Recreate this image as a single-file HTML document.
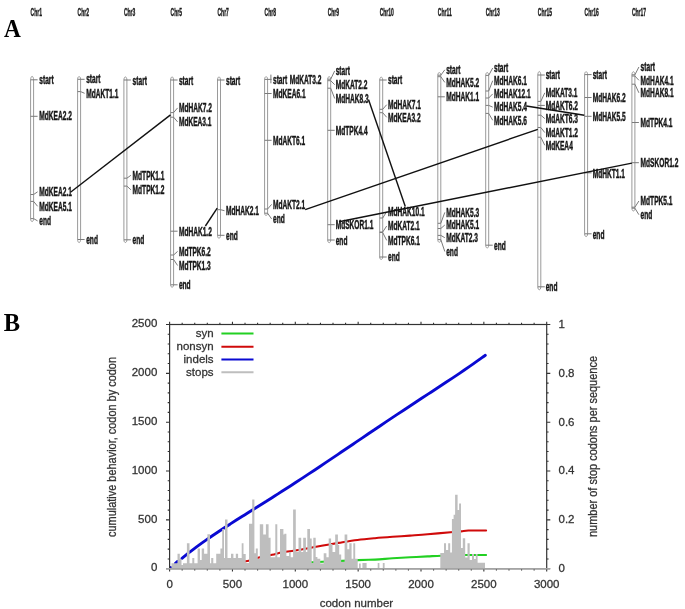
<!DOCTYPE html>
<html><head><meta charset="utf-8"><style>
html,body{margin:0;padding:0;background:#fff;}
svg{display:block;will-change:transform;}
.hd{font:bold 10px "Liberation Sans",sans-serif;fill:#1a1a1a;stroke:#1a1a1a;stroke-width:0.4;}
.lb{font:bold 12px "Liberation Sans",sans-serif;fill:#151515;stroke:#151515;stroke-width:0.45;}
.ch{fill:#fff;stroke:#9a9a9a;stroke-width:1;}
.tk{fill:none;stroke:#7a7a7a;stroke-width:1;}
.lk{stroke:#111;stroke-width:1.4;}
.tl{font:11.5px "Liberation Sans",sans-serif;fill:#333;stroke:#333;stroke-width:0.28;}
.tr{font-size:12px;}
.ax{fill:none;stroke:#333;stroke-width:1.1;}
.axl{fill:none;stroke:#333;stroke-width:1.2;}
.dl{fill:none;stroke-linejoin:round;stroke-linecap:round;}
.big{font:bold 24px "Liberation Serif",serif;fill:#000;}
</style></head><body>
<svg width="685" height="609" viewBox="0 0 685 609">
<defs><clipPath id="pc"><rect x="169.6" y="324.5" width="377.1" height="243.6"/></clipPath></defs>
<rect width="685" height="609" fill="#fff"/>
<text class="big" transform="translate(4,36.9) scale(0.97,1.06)">A</text>
<text class="big" transform="translate(3.8,331.2) scale(1.02,1.06)">B</text>
<text class="hd" transform="translate(30.6,16) scale(0.5,1)">Chr1</text>
<text class="hd" transform="translate(77.6,16) scale(0.5,1)">Chr2</text>
<text class="hd" transform="translate(123.9,16) scale(0.5,1)">Chr3</text>
<text class="hd" transform="translate(170.6,16) scale(0.5,1)">Chr5</text>
<text class="hd" transform="translate(217.5,16) scale(0.5,1)">Chr7</text>
<text class="hd" transform="translate(264.6,16) scale(0.5,1)">Chr8</text>
<text class="hd" transform="translate(327.7,16) scale(0.5,1)">Chr9</text>
<text class="hd" transform="translate(379.7,16) scale(0.5,1)">Chr10</text>
<text class="hd" transform="translate(437.8,16) scale(0.5,1)">Chr11</text>
<text class="hd" transform="translate(485.7,16) scale(0.5,1)">Chr13</text>
<text class="hd" transform="translate(537.8,16) scale(0.5,1)">Chr15</text>
<text class="hd" transform="translate(584.6,16) scale(0.5,1)">Chr16</text>
<text class="hd" transform="translate(631.9,16) scale(0.5,1)">Chr17</text>
<path class="ch" d="M30.6,79.8 L30.6,218.6 C30.6,220.4 31.4,221.6 32.1,221.6 C32.8,221.6 33.6,220.4 33.6,218.6 L33.6,79.8 C33.6,78 32.8,76.3 32.1,76.3 C31.4,76.3 30.6,78 30.6,79.8 Z"/>
<path class="tk" d="M30.6,79.8 H37.6"/>
<text class="lb" transform="translate(39.3,84.1) scale(0.55,1)">start</text>
<path class="tk" d="M30.6,116.3 H37.6"/>
<text class="lb" transform="translate(39.3,120.3) scale(0.55,1)">MdKEA2.2</text>
<path class="tk" d="M30.6,194.5 H33.6 L37.6,191.8"/>
<text class="lb" transform="translate(39.3,196.1) scale(0.55,1)">MdKEA2.1</text>
<path class="tk" d="M30.6,201.4 H33.6 L37.6,206.3"/>
<text class="lb" transform="translate(39.3,210.6) scale(0.55,1)">MdKEA5.1</text>
<path class="tk" d="M30.6,218.6 H33.6 L37.6,220.9"/>
<text class="lb" transform="translate(39.3,225.2) scale(0.55,1)">end</text>
<path class="ch" d="M77.6,79.3 L77.6,239.5 C77.6,241.3 78.4,242.6 79.1,242.6 C79.8,242.6 80.6,241.3 80.6,239.5 L80.6,79.3 C80.6,77.5 79.8,76.6 79.1,76.6 C78.4,76.6 77.6,77.5 77.6,79.3 Z"/>
<path class="tk" d="M77.6,79.3 H84.6"/>
<text class="lb" transform="translate(86.2,83.1) scale(0.55,1)">start</text>
<path class="tk" d="M77.6,91.6 H80.6 L84.6,93.3"/>
<text class="lb" transform="translate(86.2,97.6) scale(0.55,1)">MdAKT1.1</text>
<path class="tk" d="M77.6,239.5 H84.6"/>
<text class="lb" transform="translate(86.2,243.9) scale(0.55,1)">end</text>
<path class="ch" d="M123.9,80 L123.9,239.8 C123.9,241.6 124.7,242.5 125.4,242.5 C126.1,242.5 126.9,241.6 126.9,239.8 L126.9,80 C126.9,78.2 126.1,76.9 125.4,76.9 C124.7,76.9 123.9,78.2 123.9,80 Z"/>
<path class="tk" d="M123.9,80 H130.9"/>
<text class="lb" transform="translate(132.6,84.7) scale(0.55,1)">start</text>
<path class="tk" d="M123.9,178.2 H126.9 L130.9,175.3"/>
<text class="lb" transform="translate(132.6,179.6) scale(0.55,1)">MdTPK1.1</text>
<path class="tk" d="M123.9,186.1 H126.9 L130.9,189.8"/>
<text class="lb" transform="translate(132.6,194.1) scale(0.55,1)">MdTPK1.2</text>
<path class="tk" d="M123.9,239.8 H130.9"/>
<text class="lb" transform="translate(132.6,244.3) scale(0.55,1)">end</text>
<path class="ch" d="M170.6,80 L170.6,284.8 C170.6,286.6 171.4,287.1 172.1,287.1 C172.8,287.1 173.6,286.6 173.6,284.8 L173.6,80 C173.6,78.2 172.8,76.9 172.1,76.9 C171.4,76.9 170.6,78.2 170.6,80 Z"/>
<path class="tk" d="M170.6,80 H177.6"/>
<text class="lb" transform="translate(178.9,84.6) scale(0.55,1)">start</text>
<path class="tk" d="M170.6,112.6 H173.6 L177.6,107.9"/>
<text class="lb" transform="translate(178.9,112.2) scale(0.55,1)">MdHAK7.2</text>
<path class="tk" d="M170.6,117.2 H173.6 L177.6,121.9"/>
<text class="lb" transform="translate(178.9,126.2) scale(0.55,1)">MdKEA3.1</text>
<path class="tk" d="M170.6,231.2 H177.6"/>
<text class="lb" transform="translate(178.9,236.2) scale(0.55,1)">MdHAK1.2</text>
<path class="tk" d="M170.6,255 H173.6 L177.6,251.4"/>
<text class="lb" transform="translate(178.9,255.7) scale(0.55,1)">MdTPK6.2</text>
<path class="tk" d="M170.6,259.5 H173.6 L177.6,265.5"/>
<text class="lb" transform="translate(178.9,269.8) scale(0.55,1)">MdTPK1.3</text>
<path class="tk" d="M170.6,284.8 H177.6"/>
<text class="lb" transform="translate(178.9,289.1) scale(0.55,1)">end</text>
<path class="ch" d="M217.5,80 L217.5,235.3 C217.5,237.1 218.3,238.3 219,238.3 C219.7,238.3 220.5,237.1 220.5,235.3 L220.5,80 C220.5,78.2 219.7,76.9 219,76.9 C218.3,76.9 217.5,78.2 217.5,80 Z"/>
<path class="tk" d="M217.5,80 H224.5"/>
<text class="lb" transform="translate(226,84.6) scale(0.55,1)">start</text>
<path class="tk" d="M217.5,209.7 H220.5 L224.5,210.7"/>
<text class="lb" transform="translate(226,215) scale(0.55,1)">MdHAK2.1</text>
<path class="tk" d="M217.5,235.3 H224.5"/>
<text class="lb" transform="translate(226,239.9) scale(0.55,1)">end</text>
<path class="ch" d="M264.6,79.4 L264.6,213.2 C264.6,215 265.4,215.3 266.1,215.3 C266.8,215.3 267.6,215 267.6,213.2 L267.6,79.4 C267.6,77.6 266.8,76.7 266.1,76.7 C265.4,76.7 264.6,77.6 264.6,79.4 Z"/>
<path class="tk" d="M264.6,79.4 H271.6"/>
<text class="lb" transform="translate(273,84.1) scale(0.55,1)">start</text>
<path class="tk" d="M264.6,93.5 H271.6"/>
<text class="lb" transform="translate(273,97.8) scale(0.55,1)">MdKEA6.1</text>
<path class="tk" d="M264.6,140.3 H271.6"/>
<text class="lb" transform="translate(273,144.6) scale(0.55,1)">MdAKT6.1</text>
<path class="tk" d="M264.6,209 H267.6 L271.6,204.4"/>
<text class="lb" transform="translate(273,208.7) scale(0.55,1)">MdAKT2.1</text>
<path class="tk" d="M264.6,213.2 H267.6 L271.6,218.9"/>
<text class="lb" transform="translate(273,223.2) scale(0.55,1)">end</text>
<path class="tk" d="M270.9,74.6 V83.3"/>
<text class="lb" transform="translate(289.7,84.1) scale(0.55,1)">MdKAT3.2</text>
<path class="ch" d="M327.7,79.2 L327.7,240 C327.7,241.8 328.5,242.7 329.2,242.7 C329.9,242.7 330.7,241.8 330.7,240 L330.7,79.2 C330.7,77.4 329.9,76.7 329.2,76.7 C328.5,76.7 327.7,77.4 327.7,79.2 Z"/>
<path class="tk" d="M327.7,79.2 H330.7 L334.7,70.9"/>
<text class="lb" transform="translate(335.7,75.2) scale(0.55,1)">start</text>
<path class="tk" d="M327.7,80.7 H330.7 L334.7,84.7"/>
<text class="lb" transform="translate(335.7,89) scale(0.55,1)">MdKAT2.2</text>
<path class="tk" d="M327.7,88.2 H330.7 L334.7,98.5"/>
<text class="lb" transform="translate(335.7,102.8) scale(0.55,1)">MdHAK8.3</text>
<path class="tk" d="M327.7,130.3 H334.7"/>
<text class="lb" transform="translate(335.7,134.6) scale(0.55,1)">MdTPK4.4</text>
<path class="tk" d="M327.7,224.7 H334.7"/>
<text class="lb" transform="translate(335.7,228.8) scale(0.55,1)">MdSKOR1.1</text>
<path class="tk" d="M327.7,240 H334.7"/>
<text class="lb" transform="translate(335.7,244.8) scale(0.55,1)">end</text>
<path class="ch" d="M379.7,80 L379.7,257 C379.7,258.8 380.5,259.4 381.2,259.4 C381.9,259.4 382.7,258.8 382.7,257 L382.7,80 C382.7,78.2 381.9,77.1 381.2,77.1 C380.5,77.1 379.7,78.2 379.7,80 Z"/>
<path class="tk" d="M379.7,80 H386.7"/>
<text class="lb" transform="translate(388,84.3) scale(0.55,1)">start</text>
<path class="tk" d="M379.7,109.3 H382.7 L386.7,104.7"/>
<text class="lb" transform="translate(388,109) scale(0.55,1)">MdHAK7.1</text>
<path class="tk" d="M379.7,112.7 H382.7 L386.7,117.3"/>
<text class="lb" transform="translate(388,121.6) scale(0.55,1)">MdKEA3.2</text>
<path class="tk" d="M379.7,218 H382.7 L386.7,211.7"/>
<text class="lb" transform="translate(388,216) scale(0.55,1)">MdHAK10.1</text>
<path class="tk" d="M379.7,232 H382.7 L386.7,226"/>
<text class="lb" transform="translate(388,230.3) scale(0.55,1)">MdKAT2.1</text>
<path class="tk" d="M379.7,232.5 H382.7 L386.7,240.4"/>
<text class="lb" transform="translate(388,244.7) scale(0.55,1)">MdTPK6.1</text>
<path class="tk" d="M379.7,257 H386.7"/>
<text class="lb" transform="translate(388,261.3) scale(0.55,1)">end</text>
<path class="ch" d="M437.8,75.2 L437.8,239.6 C437.8,241.4 438.6,242.3 439.3,242.3 C440,242.3 440.8,241.4 440.8,239.6 L440.8,75.2 C440.8,73.4 440,72.6 439.3,72.6 C438.6,72.6 437.8,73.4 437.8,75.2 Z"/>
<path class="tk" d="M437.8,75.2 H440.8 L444.8,69.8"/>
<text class="lb" transform="translate(446.2,74.1) scale(0.55,1)">start</text>
<path class="tk" d="M437.8,76.7 H440.8 L444.8,82.4"/>
<text class="lb" transform="translate(446.2,86.7) scale(0.55,1)">MdHAK5.2</text>
<path class="tk" d="M437.8,96.8 H444.8"/>
<text class="lb" transform="translate(446.2,101.1) scale(0.55,1)">MdHAK1.1</text>
<path class="tk" d="M437.8,223.3 H440.8 L444.8,212.4"/>
<text class="lb" transform="translate(446.2,216.7) scale(0.55,1)">MdHAK5.3</text>
<path class="tk" d="M437.8,228.5 H440.8 L444.8,225"/>
<text class="lb" transform="translate(446.2,229.3) scale(0.55,1)">MdHAK5.1</text>
<path class="tk" d="M437.8,235.4 H440.8 L444.8,237.7"/>
<text class="lb" transform="translate(446.2,242) scale(0.55,1)">MdKAT2.3</text>
<path class="tk" d="M437.8,239.6 H440.8 L444.8,251.5"/>
<text class="lb" transform="translate(446.2,255.8) scale(0.55,1)">end</text>
<path class="ch" d="M485.7,75.4 L485.7,245.2 C485.7,247 486.5,248 487.2,248 C487.9,248 488.7,247 488.7,245.2 L488.7,75.4 C488.7,73.6 487.9,72.5 487.2,72.5 C486.5,72.5 485.7,73.6 485.7,75.4 Z"/>
<path class="tk" d="M485.7,75.4 H488.7 L492.7,68"/>
<text class="lb" transform="translate(494,72.3) scale(0.55,1)">start</text>
<path class="tk" d="M485.7,91 H488.7 L492.7,80.7"/>
<text class="lb" transform="translate(494,85) scale(0.55,1)">MdHAK6.1</text>
<path class="tk" d="M485.7,98 H488.7 L492.7,93.9"/>
<text class="lb" transform="translate(494,98.2) scale(0.55,1)">MdHAK12.1</text>
<path class="tk" d="M485.7,105.4 H488.7 L492.7,107.1"/>
<text class="lb" transform="translate(494,111.4) scale(0.55,1)">MdHAK5.4</text>
<path class="tk" d="M485.7,113.4 H488.7 L492.7,120.3"/>
<text class="lb" transform="translate(494,124.6) scale(0.55,1)">MdHAK5.6</text>
<path class="tk" d="M485.7,245.2 H492.7"/>
<text class="lb" transform="translate(494,249.8) scale(0.55,1)">end</text>
<path class="ch" d="M537.8,75 L537.8,286.8 C537.8,288.6 538.6,289.8 539.3,289.8 C540,289.8 540.8,288.6 540.8,286.8 L540.8,75 C540.8,73.2 540,71.5 539.3,71.5 C538.6,71.5 537.8,73.2 537.8,75 Z"/>
<path class="tk" d="M537.8,75 H544.8"/>
<text class="lb" transform="translate(545.7,79.3) scale(0.55,1)">start</text>
<path class="tk" d="M537.8,101.4 H540.8 L544.8,92.8"/>
<text class="lb" transform="translate(545.7,97.1) scale(0.55,1)">MdKAT3.1</text>
<path class="tk" d="M537.8,105.4 H544.8"/>
<text class="lb" transform="translate(545.7,109.7) scale(0.55,1)">MdAKT6.2</text>
<path class="tk" d="M537.8,115.2 H540.8 L544.8,118.6"/>
<text class="lb" transform="translate(545.7,122.9) scale(0.55,1)">MdAKT6.3</text>
<path class="tk" d="M537.8,127.5 H540.8 L544.8,132.6"/>
<text class="lb" transform="translate(545.7,136.9) scale(0.55,1)">MdAKT1.2</text>
<path class="tk" d="M537.8,137.2 H540.8 L544.8,145.3"/>
<text class="lb" transform="translate(545.7,149.6) scale(0.55,1)">MdKEA4</text>
<path class="tk" d="M537.8,286.8 H544.8"/>
<text class="lb" transform="translate(545.7,291.1) scale(0.55,1)">end</text>
<path class="ch" d="M584.6,74.6 L584.6,233.8 C584.6,235.6 585.4,236.6 586.1,236.6 C586.8,236.6 587.6,235.6 587.6,233.8 L587.6,74.6 C587.6,72.8 586.8,71.7 586.1,71.7 C585.4,71.7 584.6,72.8 584.6,74.6 Z"/>
<path class="tk" d="M584.6,74.6 H591.6"/>
<text class="lb" transform="translate(592.7,78.7) scale(0.55,1)">start</text>
<path class="tk" d="M584.6,97.5 H591.6"/>
<text class="lb" transform="translate(592.7,101.8) scale(0.55,1)">MdHAK6.2</text>
<path class="tk" d="M584.6,116.3 H591.6"/>
<text class="lb" transform="translate(592.7,120.6) scale(0.55,1)">MdHAK5.5</text>
<path class="tk" d="M584.6,172.8 H591.6"/>
<text class="lb" transform="translate(592.7,177.8) scale(0.55,1)">MdHKT1.1</text>
<path class="tk" d="M584.6,233.8 H591.6"/>
<text class="lb" transform="translate(592.7,238.7) scale(0.55,1)">end</text>
<path class="ch" d="M631.9,74.8 L631.9,208.2 C631.9,210 632.7,211 633.4,211 C634.1,211 634.9,210 634.9,208.2 L634.9,74.8 C634.9,73 634.1,71.7 633.4,71.7 C632.7,71.7 631.9,73 631.9,74.8 Z"/>
<path class="tk" d="M631.9,74.8 H634.9 L638.9,67"/>
<text class="lb" transform="translate(640.6,71.3) scale(0.55,1)">start</text>
<path class="tk" d="M631.9,76 H634.9 L638.9,80.3"/>
<text class="lb" transform="translate(640.6,84.6) scale(0.55,1)">MdHAK4.1</text>
<path class="tk" d="M631.9,84.2 H634.9 L638.9,92.8"/>
<text class="lb" transform="translate(640.6,97.1) scale(0.55,1)">MdHAK8.1</text>
<path class="tk" d="M631.9,122.5 H638.9"/>
<text class="lb" transform="translate(640.6,126.8) scale(0.55,1)">MdTPK4.1</text>
<path class="tk" d="M631.9,162.7 H638.9"/>
<text class="lb" transform="translate(640.6,167) scale(0.55,1)">MdSKOR1.2</text>
<path class="tk" d="M631.9,207.2 H634.9 L638.9,201"/>
<text class="lb" transform="translate(640.6,205.3) scale(0.55,1)">MdTPK5.1</text>
<path class="tk" d="M631.9,208.2 H634.9 L638.9,214.7"/>
<text class="lb" transform="translate(640.6,219) scale(0.55,1)">end</text>
<line class="lk" x1="70.5" y1="192.2" x2="170.5" y2="114.9"/>
<line class="lk" x1="205.4" y1="226" x2="217.2" y2="208.2"/>
<line class="lk" x1="305.2" y1="209.6" x2="537.8" y2="129.3"/>
<line class="lk" x1="368.6" y1="99.7" x2="405.3" y2="206.5"/>
<line class="lk" x1="339" y1="221.8" x2="631.9" y2="163.1"/>
<line class="lk" x1="526.3" y1="106" x2="584.3" y2="115.2"/>
<path class="ax" d="M169.6,568.7 v2.8 M169.6,324.5 v-2.8 M182.17,568.7 v1.7 M182.17,324.5 v-1.7 M194.74,568.7 v1.7 M194.74,324.5 v-1.7 M207.31,568.7 v1.7 M207.31,324.5 v-1.7 M219.88,568.7 v1.7 M219.88,324.5 v-1.7 M232.45,568.7 v2.8 M232.45,324.5 v-2.8 M245.02,568.7 v1.7 M245.02,324.5 v-1.7 M257.59,568.7 v1.7 M257.59,324.5 v-1.7 M270.16,568.7 v1.7 M270.16,324.5 v-1.7 M282.73,568.7 v1.7 M282.73,324.5 v-1.7 M295.3,568.7 v2.8 M295.3,324.5 v-2.8 M307.87,568.7 v1.7 M307.87,324.5 v-1.7 M320.44,568.7 v1.7 M320.44,324.5 v-1.7 M333.01,568.7 v1.7 M333.01,324.5 v-1.7 M345.58,568.7 v1.7 M345.58,324.5 v-1.7 M358.15,568.7 v2.8 M358.15,324.5 v-2.8 M370.72,568.7 v1.7 M370.72,324.5 v-1.7 M383.29,568.7 v1.7 M383.29,324.5 v-1.7 M395.86,568.7 v1.7 M395.86,324.5 v-1.7 M408.43,568.7 v1.7 M408.43,324.5 v-1.7 M421,568.7 v2.8 M421,324.5 v-2.8 M433.57,568.7 v1.7 M433.57,324.5 v-1.7 M446.14,568.7 v1.7 M446.14,324.5 v-1.7 M458.71,568.7 v1.7 M458.71,324.5 v-1.7 M471.28,568.7 v1.7 M471.28,324.5 v-1.7 M483.85,568.7 v2.8 M483.85,324.5 v-2.8 M496.42,568.7 v1.7 M496.42,324.5 v-1.7 M508.99,568.7 v1.7 M508.99,324.5 v-1.7 M521.56,568.7 v1.7 M521.56,324.5 v-1.7 M534.13,568.7 v1.7 M534.13,324.5 v-1.7 M546.7,568.7 v2.8 M546.7,324.5 v-2.8 M169.6,568.7 h-3.6 M169.6,558.93 h-1.9 M169.6,549.16 h-1.9 M169.6,539.4 h-1.9 M169.6,529.63 h-1.9 M169.6,519.86 h-3.6 M169.6,510.09 h-1.9 M169.6,500.32 h-1.9 M169.6,490.56 h-1.9 M169.6,480.79 h-1.9 M169.6,471.02 h-3.6 M169.6,461.25 h-1.9 M169.6,451.48 h-1.9 M169.6,441.72 h-1.9 M169.6,431.95 h-1.9 M169.6,422.18 h-3.6 M169.6,412.41 h-1.9 M169.6,402.64 h-1.9 M169.6,392.88 h-1.9 M169.6,383.11 h-1.9 M169.6,373.34 h-3.6 M169.6,363.57 h-1.9 M169.6,353.8 h-1.9 M169.6,344.04 h-1.9 M169.6,334.27 h-1.9 M169.6,324.5 h-3.6 M546.7,568.7 h3.6 M546.7,558.93 h1.9 M546.7,549.16 h1.9 M546.7,539.4 h1.9 M546.7,529.63 h1.9 M546.7,519.86 h3.6 M546.7,510.09 h1.9 M546.7,500.32 h1.9 M546.7,490.56 h1.9 M546.7,480.79 h1.9 M546.7,471.02 h3.6 M546.7,461.25 h1.9 M546.7,451.48 h1.9 M546.7,441.72 h1.9 M546.7,431.95 h1.9 M546.7,422.18 h3.6 M546.7,412.41 h1.9 M546.7,402.64 h1.9 M546.7,392.88 h1.9 M546.7,383.11 h1.9 M546.7,373.34 h3.6 M546.7,363.57 h1.9 M546.7,353.8 h1.9 M546.7,344.04 h1.9 M546.7,334.27 h1.9 M546.7,324.5 h3.6"/>
<g clip-path="url(#pc)">
<path class="dl" stroke="#22d022" stroke-width="2.1" d="M170,568.7 C183.33,568.12 226.33,566.27 250,565.2 C273.67,564.13 294.05,563.15 312,562.3 C329.95,561.45 347.2,560.55 357.7,560.1 C368.2,559.65 369.18,559.9 375,559.6 C380.82,559.3 386.77,558.68 392.6,558.3 C398.43,557.92 404.17,557.62 410,557.3 C415.83,556.98 422.33,556.67 427.6,556.4 C432.87,556.13 435.28,555.93 441.6,555.7 C447.92,555.47 458.08,555.12 465.5,555 C472.92,554.88 482.67,555 486.1,555"/>
<path class="dl" stroke="#d00a0a" stroke-width="2.1" d="M170,568.7 C175,568.33 190.83,567.28 200,566.5 C209.17,565.72 217.08,564.92 225,564 C232.92,563.08 241.85,562.08 247.5,561 C253.15,559.92 254.82,558.53 258.9,557.5 C262.98,556.47 268.05,555.68 272,554.8 C275.95,553.92 278.5,552.95 282.6,552.2 C286.7,551.45 291.93,551.05 296.6,550.3 C301.27,549.55 305.93,548.55 310.6,547.7 C315.27,546.85 319.93,546 324.6,545.2 C329.27,544.4 333.12,543.77 338.6,542.9 C344.08,542.03 351.43,540.78 357.5,540 C363.57,539.22 369.15,538.73 375,538.2 C380.85,537.67 386.77,537.23 392.6,536.8 C398.43,536.37 404.17,536.02 410,535.6 C415.83,535.18 420.85,534.87 427.6,534.3 C434.35,533.73 444.93,532.68 450.5,532.2 C456.07,531.72 458.02,531.68 461,531.4 C463.98,531.12 464.22,530.65 468.4,530.5 C472.58,530.35 483.15,530.5 486.1,530.5"/>
<path class="dl" stroke="#0a0ad2" stroke-width="2.9" d="M182,558.3 C183,557.49 186,555.04 188,553.46 C190,551.88 192,550.35 194,548.84 C196,547.33 198,545.86 200,544.41 C202,542.96 204,541.54 206,540.14 C208,538.74 210,537.37 212,536.01 C214,534.65 216,533.31 218,531.98 C220,530.65 222,529.34 224,528.04 C226,526.74 228,525.44 230,524.16 C232,522.88 234,521.6 236,520.33 C238,519.06 240,517.8 242,516.54 C244,515.28 246,514.03 248,512.77 C250,511.51 252,510.25 254,509 C256,507.75 258,506.5 260,505.24 C262,503.98 264,502.72 266,501.46 C268,500.2 270,498.94 272,497.67 C274,496.4 276,495.13 278,493.86 C280,492.59 282,491.3 284,490.02 C286,488.74 288,487.45 290,486.16 C292,484.87 294,483.57 296,482.27 C298,480.97 300,479.66 302,478.35 C304,477.04 306,475.73 308,474.41 C310,473.09 312,471.77 314,470.44 C316,469.11 318,467.78 320,466.44 C322,465.1 324,463.76 326,462.42 C328,461.08 330,459.74 332,458.39 C334,457.04 336,455.69 338,454.34 C340,452.99 342,451.63 344,450.28 C346,448.93 348,447.58 350,446.22 C352,444.87 354,443.5 356,442.15 C358,440.79 360,439.44 362,438.09 C364,436.73 366,435.37 368,434.02 C370,432.67 372,431.32 374,429.97 C376,428.62 378,427.28 380,425.93 C382,424.58 384,423.24 386,421.9 C388,420.56 390,419.22 392,417.89 C394,416.56 396,415.23 398,413.9 C400,412.57 402,411.24 404,409.92 C406,408.6 408,407.28 410,405.96 C412,404.64 414,403.32 416,402.01 C418,400.69 420,399.38 422,398.07 C424,396.76 426,395.45 428,394.14 C430,392.83 432,391.53 434,390.22 C436,388.91 438,387.59 440,386.28 C442,384.96 444,383.65 446,382.33 C448,381.01 450,379.69 452,378.36 C454,377.03 456,375.69 458,374.34 C460,372.99 462,371.65 464,370.28 C466,368.91 468,367.53 470,366.14 C472,364.75 474,363.35 476,361.92 C478,360.49 480.45,358.68 482,357.58 C483.55,356.48 484.75,355.68 485.3,355.3"/>
<circle cx="170.6" cy="567.4" r="1.5" fill="#0a0ad2"/>
<line x1="175.4" y1="563.3" x2="177.6" y2="561.5" stroke="#0a0ad2" stroke-width="3" stroke-linecap="round"/>
<path fill="#bebebe" d="M171.5,568.7 V563.3 H177.5 V568.7 Z M177.5,568.7 V553.8 H179.8 V568.7 Z M179.8,568.7 V559 H181.5 V568.7 Z M181.5,568.7 V565 H183 V568.7 Z M183,568.7 V563.3 H186.9 V568.7 Z M186.9,568.7 V543.2 H189.5 V568.7 Z M189.5,568.7 V563.3 H192.3 V568.7 Z M192.3,568.7 V558 H194.3 V568.7 Z M194.3,568.7 V563.3 H197.6 V568.7 Z M197.6,568.7 V548.5 H200 V568.7 Z M200,568.7 V560 H201.7 V568.7 Z M201.7,568.7 V548.5 H204.1 V568.7 Z M204.1,568.7 V553.8 H207.4 V568.7 Z M207.4,568.7 V534.3 H210 V568.7 Z M210,568.7 V563.3 H211.2 V568.7 Z M211.2,568.7 V558 H213.3 V568.7 Z M213.3,568.7 V563.3 H216.2 V568.7 Z M216.2,568.7 V553.8 H220.4 V568.7 Z M220.4,568.7 V548.5 H222.2 V568.7 Z M222.2,568.7 V529 H224 V568.7 Z M224,568.7 V558 H225 V568.7 Z M225,568.7 V519.5 H227.5 V568.7 Z M227.5,568.7 V558 H231 V568.7 Z M231,568.7 V553.8 H233.4 V568.7 Z M233.4,568.7 V558 H235.8 V568.7 Z M235.8,568.7 V553.8 H238.1 V568.7 Z M238.1,568.7 V558 H241.7 V568.7 Z M241.7,568.7 V543.2 H243.5 V568.7 Z M243.5,568.7 V554 H245.7 V568.7 Z M245.7,568.7 V563 H249 V568.7 Z M249,568.7 V523.7 H252.2 V568.7 Z M252.2,568.7 V499.4 H254.4 V568.7 Z M254.4,568.7 V553.3 H255.8 V568.7 Z M255.8,568.7 V548.6 H257.8 V568.7 Z M257.8,568.7 V559 H259.8 V568.7 Z M259.8,568.7 V524.3 H263.2 V568.7 Z M263.2,568.7 V534.4 H265.9 V568.7 Z M265.9,568.7 V524.3 H268.6 V568.7 Z M268.6,568.7 V537.8 H270.6 V568.7 Z M270.6,568.7 V557.3 H275.3 V568.7 Z M275.3,568.7 V524.3 H277.3 V568.7 Z M277.3,568.7 V557.3 H280 V568.7 Z M280,568.7 V529 H283.4 V568.7 Z M283.4,568.7 V534.4 H284.4 V568.7 Z M284.4,568.7 V533.8 H286.4 V568.7 Z M286.4,568.7 V556 H289.1 V568.7 Z M289.1,568.7 V552 H290.7 V568.7 Z M290.7,568.7 V557.3 H293.1 V568.7 Z M293.1,568.7 V509.5 H295.8 V568.7 Z M295.8,568.7 V552 H298.5 V568.7 Z M298.5,568.7 V537.8 H301.2 V568.7 Z M301.2,568.7 V552 H303.2 V568.7 Z M303.2,568.7 V537.8 H305.9 V568.7 Z M305.9,568.7 V552 H307.3 V568.7 Z M307.3,568.7 V529 H310 V568.7 Z M310,568.7 V538.5 H311.7 V568.7 Z M311.7,568.7 V563 H313.3 V568.7 Z M313.3,568.7 V537.8 H315.7 V568.7 Z M315.7,568.7 V557 H317.4 V568.7 Z M317.4,568.7 V558.7 H320.3 V568.7 Z M320.3,568.7 V563.4 H323.7 V568.7 Z M323.7,568.7 V553.3 H326.4 V568.7 Z M326.4,568.7 V557.3 H328.7 V568.7 Z M328.7,568.7 V538.5 H331.1 V568.7 Z M331.1,568.7 V543.9 H332.5 V568.7 Z M332.5,568.7 V552 H335.2 V568.7 Z M335.2,568.7 V534.4 H337.9 V568.7 Z M337.9,568.7 V545 H339.2 V568.7 Z M339.2,568.7 V554.6 H341.2 V568.7 Z M341.2,568.7 V562 H344.6 V568.7 Z M344.6,568.7 V534.4 H347.3 V568.7 Z M347.3,568.7 V549.3 H349.3 V568.7 Z M349.3,568.7 V543.2 H351.6 V568.7 Z M351.6,568.7 V558.8 H353.3 V568.7 Z M353.3,568.7 V543.2 H355.2 V568.7 Z M355.2,568.7 V558.8 H357.7 V568.7 Z M359,568.7 V563.5 H360.7 V568.7 Z M362.4,568.7 V563.1 H366.6 V568.7 Z M377.7,568.7 V563.1 H379.4 V568.7 Z M382.8,568.7 V563.1 H384.6 V568.7 Z M440.3,568.7 V553 H444 V568.7 Z M444,568.7 V543.2 H446 V568.7 Z M446,568.7 V550 H448.2 V568.7 Z M448.2,568.7 V543.2 H450.2 V568.7 Z M450.2,568.7 V552.4 H451.9 V568.7 Z M451.9,568.7 V519.1 H453.6 V568.7 Z M453.6,568.7 V514.7 H455.1 V568.7 Z M455.1,568.7 V494.8 H457.6 V568.7 Z M457.6,568.7 V510 H459.1 V568.7 Z M459.1,568.7 V503.6 H461 V568.7 Z M461,568.7 V548 H462.8 V568.7 Z M462.8,568.7 V538.3 H465.2 V568.7 Z M465.2,568.7 V557.5 H467.5 V568.7 Z M467.5,568.7 V543.2 H469.7 V568.7 Z M469.7,568.7 V560 H472 V568.7 Z M472,568.7 V553.9 H474 V568.7 Z M474,568.7 V559 H475.8 V568.7 Z M475.8,568.7 V553.9 H477.6 V568.7 Z M477.6,568.7 V562.7 H485 V568.7 Z"/>
</g>
<rect class="axl" x="169.6" y="324.5" width="377.1" height="244.2"/>
<line x1="166" x2="550" y1="568.8" y2="568.8" stroke="#a4a4a4" stroke-width="1.5"/>
<text class="tl" x="213.6" y="336.9" text-anchor="end">syn</text>
<line x1="221.4" x2="253.5" y1="333.6" y2="333.6" stroke="#22d022" stroke-width="2"/>
<text class="tl" x="213.6" y="350" text-anchor="end">nonsyn</text>
<line x1="221.4" x2="253.5" y1="346.7" y2="346.7" stroke="#d00a0a" stroke-width="2"/>
<text class="tl" x="213.6" y="362.7" text-anchor="end">indels</text>
<line x1="221.4" x2="253.5" y1="359.4" y2="359.4" stroke="#0a0ad2" stroke-width="2"/>
<text class="tl" x="213.6" y="375.6" text-anchor="end">stops</text>
<line x1="221.4" x2="253.5" y1="372.3" y2="372.3" stroke="#bebebe" stroke-width="2"/>
<text class="tl" x="157.3" y="571.4" text-anchor="end">0</text>
<text class="tl" x="157.3" y="522.56" text-anchor="end">500</text>
<text class="tl" x="157.3" y="473.72" text-anchor="end">1000</text>
<text class="tl" x="157.3" y="424.88" text-anchor="end">1500</text>
<text class="tl" x="157.3" y="376.04" text-anchor="end">2000</text>
<text class="tl" x="157.3" y="327.2" text-anchor="end">2500</text>
<text class="tl" x="558.5" y="572.1">0</text>
<text class="tl" x="558.5" y="523.26">0.2</text>
<text class="tl" x="558.5" y="474.42">0.4</text>
<text class="tl" x="558.5" y="425.58">0.6</text>
<text class="tl" x="558.5" y="376.74">0.8</text>
<text class="tl" x="558.5" y="327.9">1</text>
<text class="tl" x="169.6" y="587.6" text-anchor="middle">0</text>
<text class="tl" x="232.45" y="587.6" text-anchor="middle">500</text>
<text class="tl" x="295.3" y="587.6" text-anchor="middle">1000</text>
<text class="tl" x="358.15" y="587.6" text-anchor="middle">1500</text>
<text class="tl" x="421" y="587.6" text-anchor="middle">2000</text>
<text class="tl" x="483.85" y="587.6" text-anchor="middle">2500</text>
<text class="tl" x="546.7" y="587.6" text-anchor="middle">3000</text>
<text class="tl" x="356.4" y="607.2" text-anchor="middle">codon number</text>
<text class="tl tr" transform="translate(116,447) rotate(-90)" text-anchor="middle" textLength="180" lengthAdjust="spacingAndGlyphs">cumulative behavior, codon by codon</text>
<text class="tl tr" transform="translate(597.2,446.5) rotate(-90)" text-anchor="middle" textLength="181" lengthAdjust="spacingAndGlyphs">number of stop codons per sequence</text>
</svg>
</body></html>
